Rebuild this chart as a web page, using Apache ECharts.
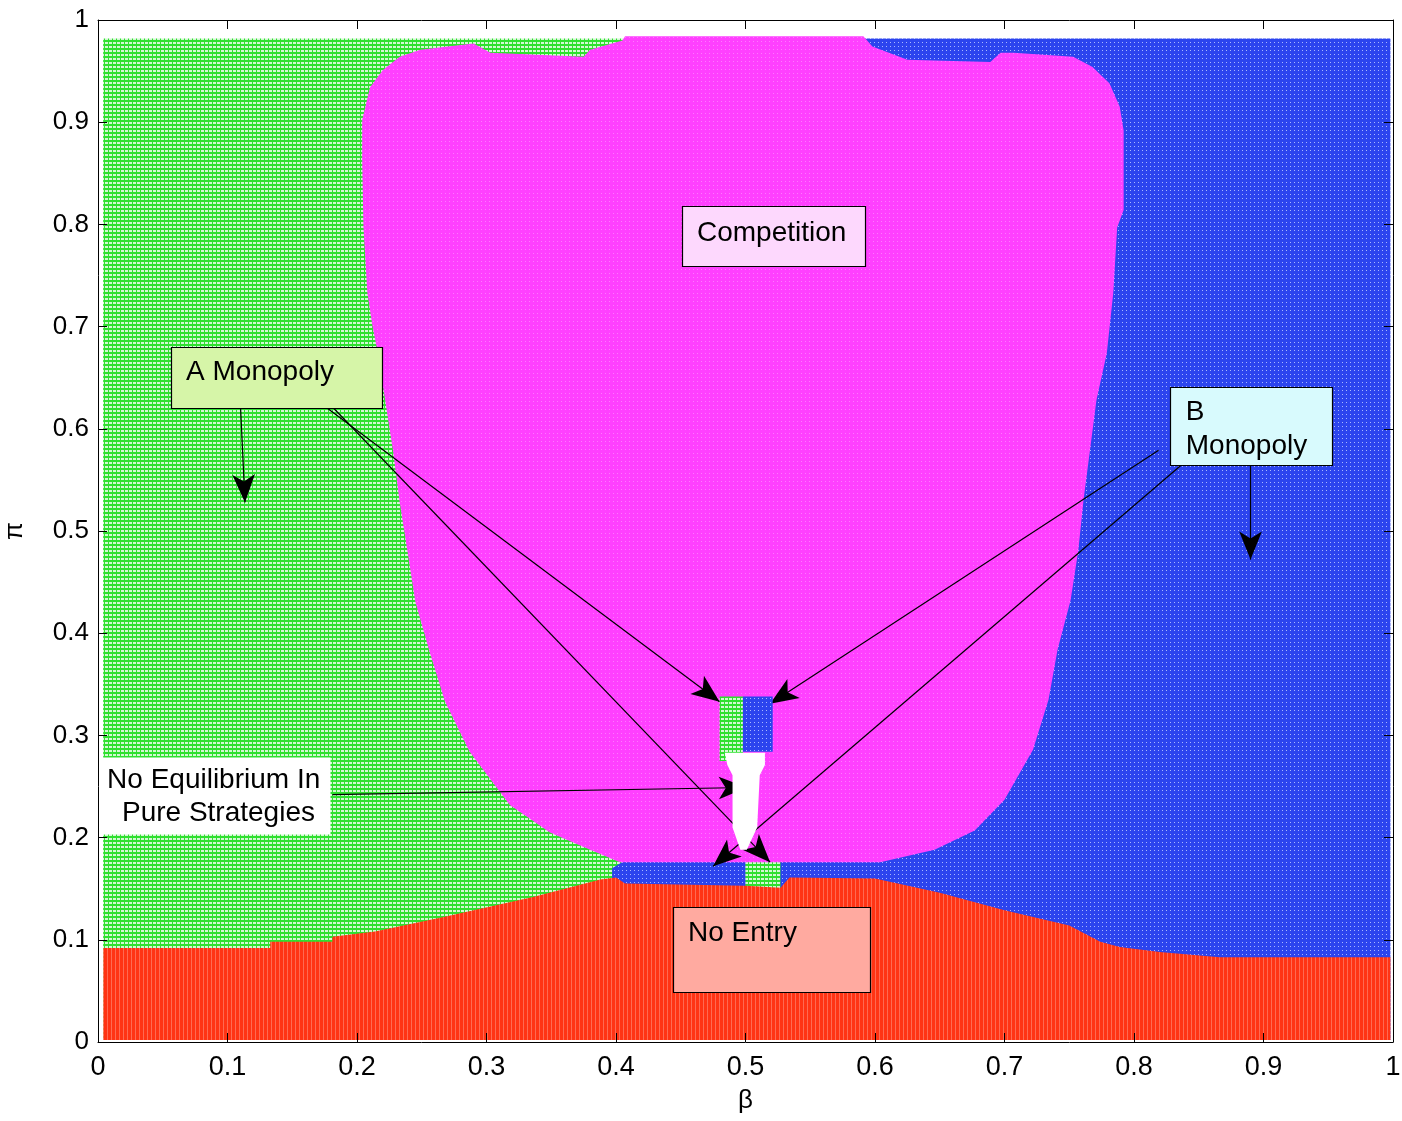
<!DOCTYPE html>
<html><head><meta charset="utf-8">
<script src="https://cdn.jsdelivr.net/npm/echarts@6/dist/echarts.min.js"></script>
<style>html,body{margin:0;padding:0;background:#fff}#c{width:1402px;height:1121px}</style>
</head><body><div id="c"></div>
<script>
// ---- tick labels ----
const xTickLabels = ['0','0.1','0.2','0.3','0.4','0.5','0.6','0.7','0.8','0.9','1'];
const yTickLabels = ['0','0.1','0.2','0.3','0.4','0.5','0.6','0.7','0.8','0.9','1'];

// ---- regions, boundary points [beta, pi] ----
const aMonopolyBase = [[0.004,0.002],[0.5,0.002],[0.5,0.982],[0.004,0.982]];
const bMonopolyBase = [[0.5,0.002],[0.998,0.002],[0.998,0.982],[0.5,0.982]];
const bMonopolyStrip = [[0.397,0.150],[0.397,0.170],[0.41,0.180],[0.5,0.180],[0.5,0.150]];
const aMonopolyStrip = [[0.5,0.150],[0.5,0.180],[0.527,0.180],[0.527,0.150]];
const competition = [
 [0.403,0.176],[0.380,0.188],[0.349,0.205],[0.318,0.232],[0.287,0.284],[0.268,0.333],
 [0.256,0.382],[0.245,0.431],[0.239,0.480],[0.233,0.528],[0.228,0.577],[0.222,0.626],
 [0.216,0.675],[0.212,0.700],[0.208,0.733],[0.205,0.797],[0.204,0.863],[0.204,0.902],
 [0.210,0.934],[0.220,0.951],[0.233,0.964],[0.249,0.971],[0.290,0.977],[0.303,0.968],
 [0.375,0.964],[0.380,0.971],[0.405,0.980],[0.407,0.984],[0.591,0.984],[0.598,0.974],
 [0.625,0.961],[0.689,0.959],[0.697,0.968],[0.707,0.968],[0.753,0.964],[0.768,0.954],
 [0.781,0.938],[0.789,0.915],[0.792,0.892],[0.792,0.814],[0.787,0.797],[0.784,0.733],
 [0.779,0.674],[0.771,0.628],[0.766,0.579],[0.761,0.530],[0.757,0.481],[0.751,0.432],
 [0.741,0.384],[0.734,0.335],[0.722,0.286],[0.700,0.237],[0.677,0.207],[0.646,0.188],
 [0.604,0.176]
];
const noEntry = [
 [0.004,0.092],[0.133,0.092],[0.133,0.098],[0.181,0.098],[0.181,0.103],[0.214,0.108],
 [0.266,0.122],[0.336,0.142],[0.388,0.159],[0.400,0.161],[0.407,0.155],[0.500,0.153],
 [0.527,0.151],[0.534,0.161],[0.600,0.160],[0.650,0.146],[0.700,0.129],[0.750,0.114],
 [0.774,0.098],[0.789,0.093],[0.820,0.088],[0.866,0.083],[0.998,0.083],[0.998,0.002],
 [0.004,0.002]
];
const aMonopolyPatch = [[0.480,0.338],[0.498,0.338],[0.498,0.275],[0.480,0.275]];
const bMonopolyPatch = [[0.498,0.338],[0.521,0.338],[0.521,0.284],[0.498,0.284]];
const noEquilibrium = [
 [0.484,0.283],[0.515,0.283],[0.515,0.271],[0.511,0.261],[0.509,0.210],[0.501,0.188],
 [0.496,0.188],[0.490,0.210],[0.490,0.261],[0.486,0.271]
];

// ---- textures ----
function pattern(w, h, bg, draw){
  const c = document.createElement('canvas'); c.width = w; c.height = h;
  const g = c.getContext('2d'); g.fillStyle = bg; g.fillRect(0,0,w,h); draw(g);
  return {image: c, repeat: 'repeat'};
}
const greenFill = pattern(4,4,'#d2f8d2', g => { g.fillStyle='#2fe02f'; g.fillRect(0,0,4,2); g.fillRect(0,0,1,4); });
const blueFill = pattern(4,4,'#2c44ee', g => { g.fillStyle='#a8b6ff'; g.fillRect(2,2,1,1); });
const magentaFill = pattern(4,4,'#ff40ff', g => { g.fillStyle='#ff78ff'; g.fillRect(1,1,1,1); });
const redFill = pattern(4,4,'#ff3414', g => { g.fillStyle='#ff6a52'; g.fillRect(3,0,1,4); });

function region(name, pts, fill, z){
  return {
    type:'custom', name, coordinateSystem:'cartesian2d', z, silent:true,
    data: pts, encode:{x:0, y:1},
    renderItem(params, api){
      if (params.dataIndex !== 0) return null;
      return {type:'polygon', shape:{points: pts.map(p => api.coord(p))}, style:{fill}};
    }
  };
}

const chart = echarts.init(document.getElementById('c'), null, {renderer:'canvas'});
const tickFont = {color:'#000', fontFamily:'Liberation Sans, Arial, sans-serif', fontSize:26};
const axBase = {
  type:'value', min:0, max:1, interval:0.1, z:10,
  axisLine:{show:true, onZero:false, lineStyle:{color:'#000', width:1}},
  axisTick:{show:true, inside:true, length:9, lineStyle:{color:'#000', width:1}},
  splitLine:{show:false}
};
const arrows = [
  [[0.110,0.623],[0.1135,0.528]],
  [[0.173,0.624],[0.480,0.333]],
  [[0.179,0.624],[0.519,0.176]],
  [[0.819,0.579],[0.519,0.331]],
  [[0.837,0.565],[0.475,0.172]],
  [[0.890,0.589],[0.890,0.472]],
  [[0.181,0.242],[0.501,0.249]]
];

chart.setOption({
  backgroundColor:'#fff', animation:false,
  grid:{left:98, right:9, top:20, bottom:79, show:false, containLabel:false, outerBoundsMode:'none'},
  xAxis:[
    Object.assign({}, axBase, {position:'bottom',
      axisLabel:{...tickFont, fontSize:27, margin:12, formatter:v => xTickLabels[Math.round(v*10)]},
      name:'β', nameLocation:'middle', nameGap:46, nameTextStyle:{color:'#000', fontSize:26, fontFamily:'Liberation Sans, sans-serif'}}),
    Object.assign({}, axBase, {position:'top', axisLabel:{show:false}})
  ],
  yAxis:[
    Object.assign({}, axBase, {position:'left',
      axisLabel:{...tickFont, margin:9, formatter:v => yTickLabels[Math.round(v*10)]},
      name:'π', nameLocation:'middle', nameGap:70, nameRotate:90, nameTextStyle:{color:'#000', fontSize:26, fontFamily:'Liberation Sans, sans-serif'}}),
    Object.assign({}, axBase, {position:'right', axisLabel:{show:false}})
  ],
  series:[
    region('A Monopoly', aMonopolyBase, greenFill, 2),
    region('B Monopoly', bMonopolyBase, blueFill, 2),
    region('B Monopoly strip', bMonopolyStrip, blueFill, 3),
    region('A Monopoly strip', aMonopolyStrip, greenFill, 3),
    region('Competition', competition, magentaFill, 4),
    region('No Entry', noEntry, redFill, 5),
    region('A Monopoly patch', aMonopolyPatch, greenFill, 6),
    region('B Monopoly patch', bMonopolyPatch, blueFill, 6),
    region('No Equilibrium', noEquilibrium, '#ffffff', 6),
    {type:'line', data:[], z:8, silent:true,
      markLine:{silent:true, symbol:['none','arrow'], symbolSize:[17,28], animation:false,
        label:{show:false}, lineStyle:{color:'#000', width:1.2, type:'solid'},
        data: arrows.map(a => [{coord:a[0]},{coord:a[1]}])}}
  ]
});

// ---- annotation boxes (data coordinates) ----
const boxes = [
  {rect:[0.451,0.818,0.592,0.759], fill:'#fdd8fd', stroke:'#000', texts:[['Competition',0.4625,0.7916]]},
  {rect:[0.056,0.680,0.219,0.620], fill:'#d6f5a8', stroke:'#000', texts:[['A Monopoly',0.068,0.6556]]},
  {rect:[0.828,0.641,0.953,0.565], fill:'#d8fafd', stroke:'#000', texts:[['B',0.840,0.6164],['Monopoly',0.840,0.5832]]},
  {rect:[0.0015,0.279,0.179,0.2035], fill:'#ffffff', stroke:null, texts:[['No Equilibrium In',0.007,0.2564],['Pure Strategies',0.0185,0.2241]]},
  {rect:[0.444,0.132,0.596,0.049], fill:'#ffaaa0', stroke:'#000', texts:[['No Entry',0.4556,0.1067]]}
];
const els = [];
boxes.forEach(b => {
  const p0 = chart.convertToPixel({gridIndex:0}, [b.rect[0], b.rect[1]]);
  const p1 = chart.convertToPixel({gridIndex:0}, [b.rect[2], b.rect[3]]);
  els.push({type:'rect', z:100, shape:{x:Math.round(p0[0])+0.5, y:Math.round(p0[1])+0.5, width:Math.round(p1[0]-p0[0]), height:Math.round(p1[1]-p0[1])},
    style:{fill:b.fill, stroke:b.stroke || null, lineWidth:1.2}});
  b.texts.forEach(t => {
    const q = chart.convertToPixel({gridIndex:0}, [t[1], t[2]]);
    els.push({type:'text', z:101, x:q[0], y:q[1],
      style:{text:t[0], fill:'#000', font:'28px "Liberation Sans", Arial, sans-serif', textAlign:'left', textVerticalAlign:'middle'}});
  });
});
chart.setOption({graphic:{elements:els}});
</script></body></html>
